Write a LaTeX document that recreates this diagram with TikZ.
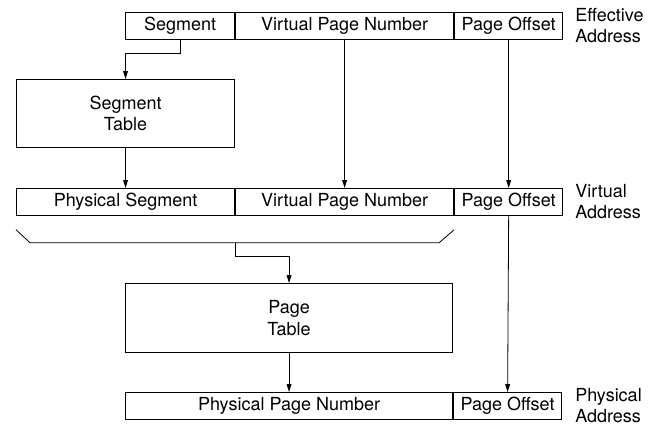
\documentclass[tikz,border=0pt]{standalone}
\usepackage{fontspec}
\setmainfont{TeX Gyre Heros}
\usepackage{tikz}
\usetikzlibrary{positioning}
\usetikzlibrary{calc}
\usetikzlibrary{arrows.meta}
\begin{document}
\begin{tikzpicture}[x=0.75pt,y=-0.75pt,
  field/.style={draw,line width=0.8pt,inner sep=0pt,minimum height=20pt,font=\fontsize{13.5}{16}\selectfont},
  tablebox/.style={draw,line width=0.8pt,align=center,inner sep=0pt,anchor=north west,font=\fontsize{13.5}{16}\selectfont},
  addr/.style={anchor=north west,align=left,inner sep=0pt,font=\fontsize{13.5}{16}\selectfont},
  link/.style={line width=0.6pt,-{Triangle[length=6pt,width=3.6pt]}}]
  \useasboundingbox (0,0) rectangle (656,425);

  \node[field,minimum width=81.75pt,anchor=north west] (seg) at (125,12) {Segment};
  \node[field,minimum width=163.5pt,right=0pt of seg] (vpnA) {Virtual Page Number};
  \node[field,minimum width=81pt,right=0pt of vpnA] (poA) {Page Offset};
  \node[addr] (ea) at (575,8) {Effective\\Address};

  \node[tablebox,minimum width=163.5pt,minimum height=51pt] (st) at (16,79) {Segment\\Table};

  \node[field,minimum width=163.5pt,anchor=north west] (ps) at (16,188) {Physical Segment};
  \node[field,minimum width=163.5pt,right=0pt of ps] (vpnB) {Virtual Page Number};
  \node[field,minimum width=81pt,right=0pt of vpnB] (poB) {Page Offset};
  \node[addr] (va) at (575,184) {Virtual\\Address};

  \node[tablebox,minimum width=245.25pt,minimum height=51.75pt] (pt) at (125,283) {Page\\Table};

  \node[field,minimum width=245.25pt,anchor=north west] (ppn) at (125,392) {Physical Page Number};
  \node[field,minimum width=81pt,right=0pt of ppn] (poC) {Page Offset};
  \node[addr] (pa) at (575,388) {Physical\\Address};

  \draw[link] (seg.south) -- ++(0,14) -| (st.north);
  \draw[link] (st.south) -- (ps.north);
  \draw[link] (vpnA.south) -- (vpnB.north);
  \draw[link] (poA.south) -- (poB.north);
  \draw[link] (poB.south) -- (poC.north);

  \coordinate (bmid) at ($(ps.south east)+(0,27)$);
  \draw[line width=0.6pt] ($(ps.south west)+(0,14)$) -- ++(14,13) -- ($(vpnB.south east)+(-15,27)$) -- ++(15,-13);
  \draw[link] (bmid) -- ++(0,14) -| (pt.north);
  \draw[link] (pt.south) -- (ppn.north);
\end{tikzpicture}
\end{document}
